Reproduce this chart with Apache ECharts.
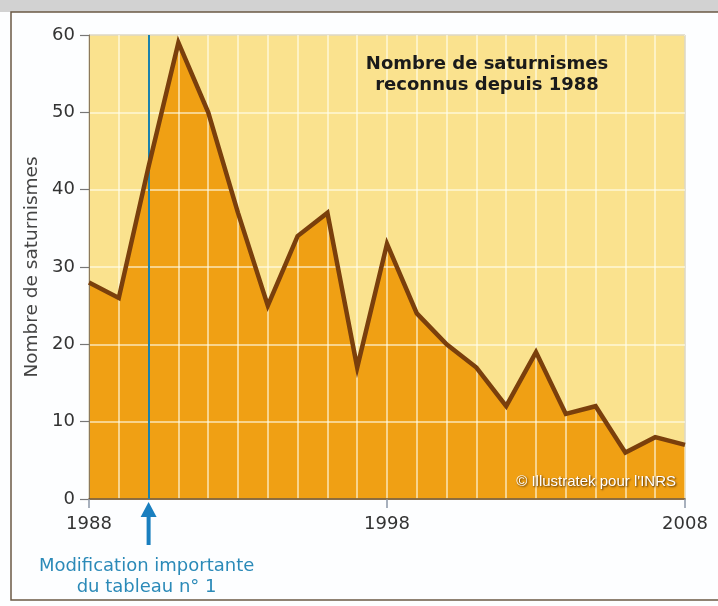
<!DOCTYPE html>
<html>
<head>
<meta charset="utf-8">
<script src="https://cdn.jsdelivr.net/npm/echarts@6/dist/echarts.min.js"></script>
<style>
  html, body { margin: 0; padding: 0; background: #fdfeff; }
  #myChart { width: 718px; height: 606px; }
</style>
</head>
<body>
<div id="myChart"></div>
<script>
// années et nombre de saturnismes reconnus
var years = ['1988','1989','1990','1991','1992','1993','1994','1995','1996','1997','1998',
             '1999','2000','2001','2002','2003','2004','2005','2006','2007','2008'];
var cases = [28, 26, 43, 59, 50, 37, 25, 34, 37, 17, 33, 24, 20, 17, 12, 19, 11, 12, 6, 8, 7];
var yTicks = [0, 10, 20, 30, 40, 50, 60];
var changeYear = '1990';

var chart = echarts.init(document.getElementById('myChart'));
var font = '"DejaVu Sans", Verdana, sans-serif';

chart.setOption({
    backgroundColor: '#fdfeff',
    animation: false,
    grid: {
        left: 89, right: 33, top: 35, bottom: 107,
        show: true,
        backgroundColor: '#fae28e',
        borderColor: '#8c7a5c',
        borderWidth: 1
    },
    xAxis: {
        type: 'category',
        data: years,
        boundaryGap: false,
        z: 3,
        axisLine: { lineStyle: { color: '#6b4a20', width: 1.5 } },
        axisTick: {
            alignWithLabel: true,
            length: 9,
            interval: function (i) { return i % 10 === 0; },
            lineStyle: { color: '#8a96a8', width: 1.5 }
        },
        axisLabel: {
            interval: function (i) { return i % 10 === 0; },
            margin: 16,
            fontFamily: font, fontSize: 18, color: '#333'
        },
        splitLine: {
            show: true, interval: 0,
            lineStyle: { color: 'rgba(255,255,240,0.55)', width: 2 }
        }
    },
    yAxis: {
        type: 'value',
        min: yTicks[0], max: yTicks[yTicks.length - 1], interval: 10,
        z: 3,
        name: 'Nombre de saturnismes',
        nameLocation: 'middle',
        nameGap: 46,
        nameTextStyle: { fontFamily: font, fontSize: 18.5, color: '#444' },
        axisLine: { show: true, lineStyle: { color: '#8c7a5c', width: 1 } },
        axisTick: { show: true, length: 9, lineStyle: { color: '#777', width: 1.2 } },
        axisLabel: { margin: 14, fontFamily: font, fontSize: 18, color: '#333' },
        splitLine: { show: true, lineStyle: { color: 'rgba(255,255,240,0.55)', width: 2 } }
    },
    series: [
        {
            // remplissage orange sous la courbe
            type: 'line',
            data: cases,
            z: 1,
            symbol: 'none',
            lineStyle: { width: 0 },
            areaStyle: { color: '#f0a014', opacity: 1 }
        },
        {
            type: 'line',
            data: cases,
            z: 5,
            symbol: 'none',
            lineStyle: { color: '#7a3f0c', width: 4.5, join: 'miter' },
            markLine: {
                symbol: 'none',
                silent: true,
                label: { show: false },
                lineStyle: { color: '#1a82ad', width: 2, type: 'solid' },
                data: [{ xAxis: changeYear }]
            }
        }
    ]
});

// flèche et légende de la modification du tableau
var px = chart.convertToPixel({ xAxisIndex: 0, yAxisIndex: 0 }, [changeYear, 0]);
var ax = px[0], ay = px[1];
chart.setOption({
    graphic: [
        { type: 'rect', z: 100, shape: { x: 0, y: 0, width: 718, height: 12 },
          style: { fill: '#d2d2d2' }, silent: true },
        { type: 'rect', z: 100, shape: { x: 11, y: 12, width: 720, height: 588 },
          style: { fill: 'none', stroke: '#6b5a45', lineWidth: 1.5 }, silent: true },
        { type: 'text', z: 100, x: 487, y: 54,
          style: { text: 'Nombre de saturnismes\nreconnus depuis 1988', textAlign: 'center',
                   font: 'bold 18px ' + font, fill: '#1a1a1a', lineHeight: 21 } },
        { type: 'line', z: 100, shape: { x1: ax, y1: ay + 46, x2: ax, y2: ay + 14 },
          style: { stroke: '#1a7fbf', lineWidth: 4 } },
        { type: 'polygon', z: 100, shape: { points: [[ax, ay + 3], [ax - 8, ay + 18], [ax + 8, ay + 18]] },
          style: { fill: '#1a7fbf' } },
        { type: 'text', z: 100, x: ax - 2, y: ay + 57,
          style: { text: 'Modification importante\ndu tableau n° 1', textAlign: 'center',
                   font: '18px ' + font, fill: '#2b8ab8', lineHeight: 21 } },
        { type: 'text', z: 100, x: 676, y: 474,
          style: { text: '© Illustratek pour l\'INRS', textAlign: 'right',
                   font: '15px "Liberation Sans", Arial, sans-serif', fill: '#ffffff',
                   textShadowColor: '#4a2800', textShadowBlur: 2, textShadowOffsetX: 1, textShadowOffsetY: 1 } }
    ]
});
</script>
</body>
</html>
